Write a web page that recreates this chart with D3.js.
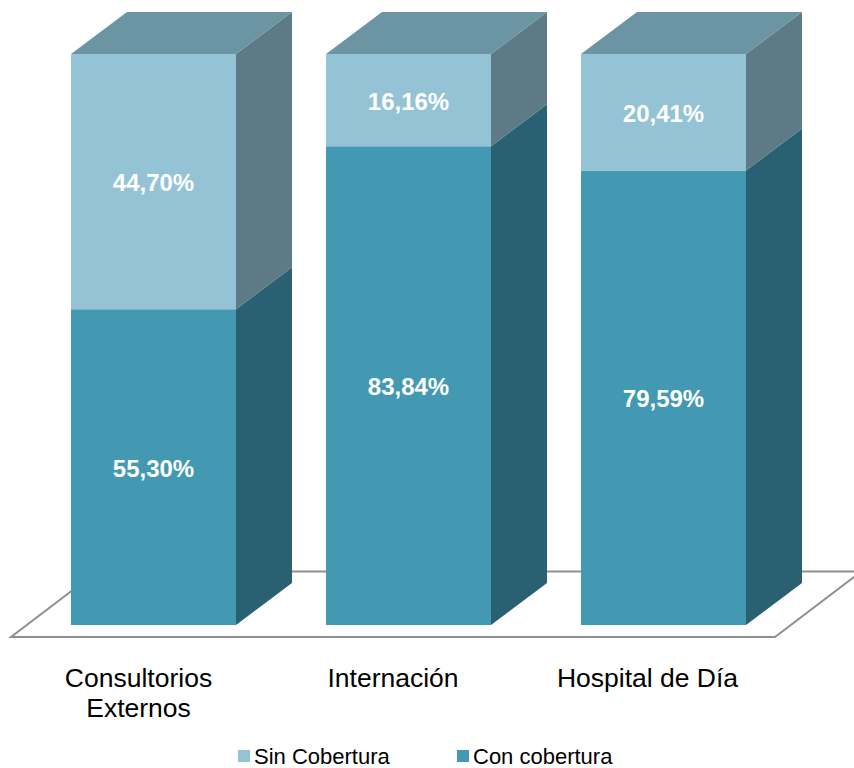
<!DOCTYPE html>
<html><head><meta charset="utf-8">
<script src="https://cdn.jsdelivr.net/npm/d3@7"></script>
<style>html,body{margin:0;padding:0;background:#fff}svg{display:block}text{font-family:"Liberation Sans",Arial,sans-serif}</style>
</head><body><div id="c"></div>
<script>
const categories = ["Consultorios Externos", "Internación", "Hospital de Día"];
const conCobertura = [55.30, 83.84, 79.59];
const sinCobertura = [44.70, 16.16, 20.41];
const seriesNames = ["Sin Cobertura", "Con cobertura"];

const W = 854, H = 768, dx = 56, dy = 42;
const svg = d3.select("#c").append("svg").attr("width", W).attr("height", H);
const x = d3.scalePoint().domain(categories).range([71, 581]);
const barW = 165;
const y = d3.scaleLinear().domain([0, 100]).range([625, 54]);
const fmt = v => d3.format(".2f")(v).replace(".", ",") + "%";
const colors = {
  con: {front: "#4299b1", side: "#2a6172"},
  sin: {front: "#93c3d5", side: "#5c7b86", top: "#6c95a4"}
};

// floor
const fy0 = y(0) + 12, fy1 = fy0 - 65.5, fSlope = 0.76;
const fx0 = 11, fx1 = 775, fdx = (fy0 - fy1) / fSlope;
svg.append("path")
  .attr("d", `M${fx0},${fy0}L${fx1},${fy0}L${fx1 + fdx},${fy1}L${fx0 + fdx},${fy1}Z`)
  .attr("fill", "#fff").attr("stroke", "#8f8f8f").attr("stroke-width", 2);

const poly = (g, pts, fill) => g.append("polygon")
  .attr("points", pts.map(p => p.join(",")).join(" ")).attr("fill", fill);

categories.forEach((c, i) => {
  const g = svg.append("g");
  const x0 = x(c), x1 = x0 + barW;
  const yb = y(0), ym = y(conCobertura[i]), yt = y(conCobertura[i] + sinCobertura[i]);
  poly(g, [[x1, yb], [x1 + dx, yb - dy], [x1 + dx, ym - dy], [x1, ym]], colors.con.side);
  poly(g, [[x1, ym], [x1 + dx, ym - dy], [x1 + dx, yt - dy], [x1, yt]], colors.sin.side);
  poly(g, [[x0, yt], [x0 + dx, yt - dy], [x1 + dx, yt - dy], [x1, yt]], colors.sin.top);
  g.append("rect").attr("x", x0).attr("y", ym).attr("width", barW).attr("height", yb - ym).attr("fill", colors.con.front);
  g.append("rect").attr("x", x0).attr("y", yt).attr("width", barW).attr("height", ym - yt).attr("fill", colors.sin.front);
  g.selectAll("text").data([
    [conCobertura[i], (yb + ym) / 2],
    [sinCobertura[i], (ym + yt) / 2]
  ]).join("text")
    .attr("x", x0 + barW / 2).attr("y", d => d[1] + 9.5)
    .attr("text-anchor", "middle").attr("fill", "#fff")
    .attr("font-weight", "bold").attr("font-size", 24)
    .text(d => fmt(d[0]));
});

// category labels
const axis = svg.append("g");
categories.forEach((c, i) => {
  const t = axis.append("text").attr("text-anchor", "middle").attr("font-size", 26.5).attr("fill", "#000")
    .attr("x", x(c) + barW / 2 - (i === 0 ? 15 : i === 1 ? 15.5 : 16)).attr("y", 687);
  const lines = c === "Consultorios Externos" ? c.split(" ") : [c];
  lines.forEach((l, j) => t.append("tspan").attr("x", t.attr("x")).attr("dy", j ? 30 : 0).text(l));
});

// legend
const legend = svg.append("g");
[[238, colors.sin.front], [457, colors.con.front]].forEach(([lx, col], i) => {
  legend.append("rect").attr("x", lx).attr("y", 750).attr("width", 12).attr("height", 12).attr("fill", col);
  legend.append("text").attr("x", lx + 16).attr("y", 764).attr("font-size", 22).attr("fill", "#000").text(seriesNames[i]);
});
</script></body></html>
